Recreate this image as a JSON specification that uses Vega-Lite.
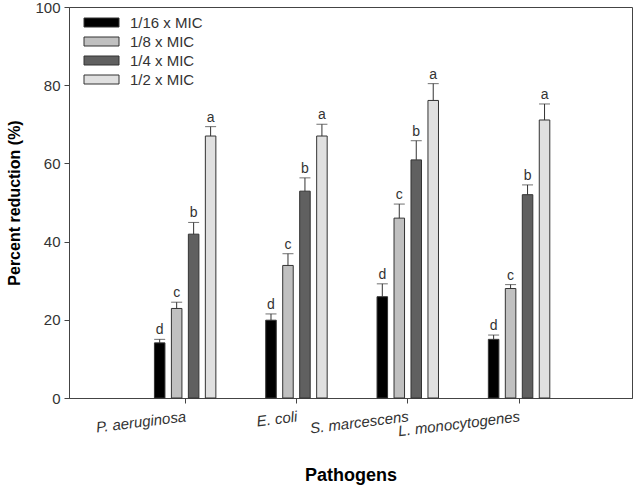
{
  "$schema": "https://vega.github.io/schema/vega-lite/v6.json",
  "autosize": "none",
  "padding": {"left": 69, "top": 7, "right": 1, "bottom": 88},
  "width": 563,
  "height": 391,
  "background": "white",
  "config": {
    "font": "Liberation Sans",
    "view": {"stroke": "#444444", "strokeWidth": 1},
    "axis": {"domain": true, "ticks": true, "domainColor": "#444444", "tickColor": "#444444", "domainWidth": 1, "tickWidth": 1}
  },
  "data": {
    "values": [
      {"pathogen": "P. aeruginosa", "conc": "1/16 x MIC", "value": 14.1, "upper": 15.0, "letter": "d"},
      {"pathogen": "P. aeruginosa", "conc": "1/8 x MIC", "value": 22.9, "upper": 24.5, "letter": "c"},
      {"pathogen": "P. aeruginosa", "conc": "1/4 x MIC", "value": 41.9, "upper": 44.9, "letter": "b"},
      {"pathogen": "P. aeruginosa", "conc": "1/2 x MIC", "value": 67.0, "upper": 69.4, "letter": "a"},
      {"pathogen": "E. coli", "conc": "1/16 x MIC", "value": 19.9, "upper": 21.5, "letter": "d"},
      {"pathogen": "E. coli", "conc": "1/8 x MIC", "value": 33.9, "upper": 36.9, "letter": "c"},
      {"pathogen": "E. coli", "conc": "1/4 x MIC", "value": 52.9, "upper": 56.3, "letter": "b"},
      {"pathogen": "E. coli", "conc": "1/2 x MIC", "value": 67.0, "upper": 70.0, "letter": "a"},
      {"pathogen": "S. marcescens", "conc": "1/16 x MIC", "value": 25.9, "upper": 29.2, "letter": "d"},
      {"pathogen": "S. marcescens", "conc": "1/8 x MIC", "value": 46.0, "upper": 49.6, "letter": "c"},
      {"pathogen": "S. marcescens", "conc": "1/4 x MIC", "value": 60.9, "upper": 65.8, "letter": "b"},
      {"pathogen": "S. marcescens", "conc": "1/2 x MIC", "value": 76.1, "upper": 80.4, "letter": "a"},
      {"pathogen": "L. monocytogenes", "conc": "1/16 x MIC", "value": 15.0, "upper": 16.1, "letter": "d"},
      {"pathogen": "L. monocytogenes", "conc": "1/8 x MIC", "value": 28.0, "upper": 29.0, "letter": "c"},
      {"pathogen": "L. monocytogenes", "conc": "1/4 x MIC", "value": 52.0, "upper": 54.5, "letter": "b"},
      {"pathogen": "L. monocytogenes", "conc": "1/2 x MIC", "value": 71.1, "upper": 75.2, "letter": "a"}
    ]
  },
  "encoding": {
    "x": {
      "field": "pathogen", "type": "nominal",
      "sort": ["P. aeruginosa", "E. coli", "S. marcescens", "L. monocytogenes"],
      "scale": {"paddingInner": 0.39, "paddingOuter": 0.724, "align": 0.51},
      "axis": {
        "title": "Pathogens", "titleFontSize": 18, "titleFontWeight": "bold",
        "titleColor": "#000000", "titlePadding": 28,
        "labelAngle": -7, "labelAlign": "right", "labelBaseline": "top",
        "labelFontSize": 15, "labelFontStyle": "italic", "labelColor": "#333333", "labelPadding": 6,
        "tickSize": 5
      }
    },
    "xOffset": {
      "field": "conc", "type": "nominal",
      "sort": ["1/16 x MIC", "1/8 x MIC", "1/4 x MIC", "1/2 x MIC"],
      "scale": {"paddingInner": 0.38, "paddingOuter": 0.19}
    }
  },
  "layer": [
    {
      "mark": {"type": "bar", "stroke": "#333333", "strokeWidth": 1},
      "encoding": {
        "y": {
          "field": "value", "type": "quantitative",
          "scale": {"domain": [0, 100], "nice": false},
          "axis": {
            "title": "Percent reduction (%)", "titleFontSize": 16, "titleFontWeight": "bold", "titleColor": "#000000",
            "titlePadding": 12,
            "values": [0, 20, 40, 60, 80, 100], "grid": false,
            "labelFontSize": 15, "labelColor": "#333333", "labelPadding": 4,
            "tickSize": 5
          }
        },
        "fill": {
          "field": "conc", "type": "nominal",
          "sort": ["1/16 x MIC", "1/8 x MIC", "1/4 x MIC", "1/2 x MIC"],
          "scale": {"range": ["#000000", "#c0c0c0", "#606060", "#e0e0e0"]},
          "legend": {
            "title": null, "orient": "none", "legendX": 25, "legendY": 8,
            "symbolType": "M-3.5,-0.9H3.5V0.9H-3.5Z", "symbolSize": 100,
            "symbolStrokeColor": "#333333", "symbolStrokeWidth": 1, "symbolOpacity": 1,
            "labelOffset": 21, "labelFontSize": 15, "labelColor": "#333333",
            "rowPadding": 3
          }
        }
      }
    },
    {
      "mark": {"type": "rule", "color": "#333333", "strokeWidth": 1},
      "encoding": {
        "y": {"field": "value", "type": "quantitative"},
        "y2": {"field": "upper"}
      }
    },
    {
      "mark": {"type": "tick", "color": "#333333", "thickness": 1, "size": 11, "orient": "horizontal"},
      "encoding": {
        "y": {"field": "upper", "type": "quantitative"}
      }
    },
    {
      "mark": {"type": "text", "baseline": "bottom", "dy": -2, "fontSize": 14, "color": "#333333"},
      "encoding": {
        "y": {"field": "upper", "type": "quantitative"},
        "text": {"field": "letter"}
      }
    }
  ]
}
